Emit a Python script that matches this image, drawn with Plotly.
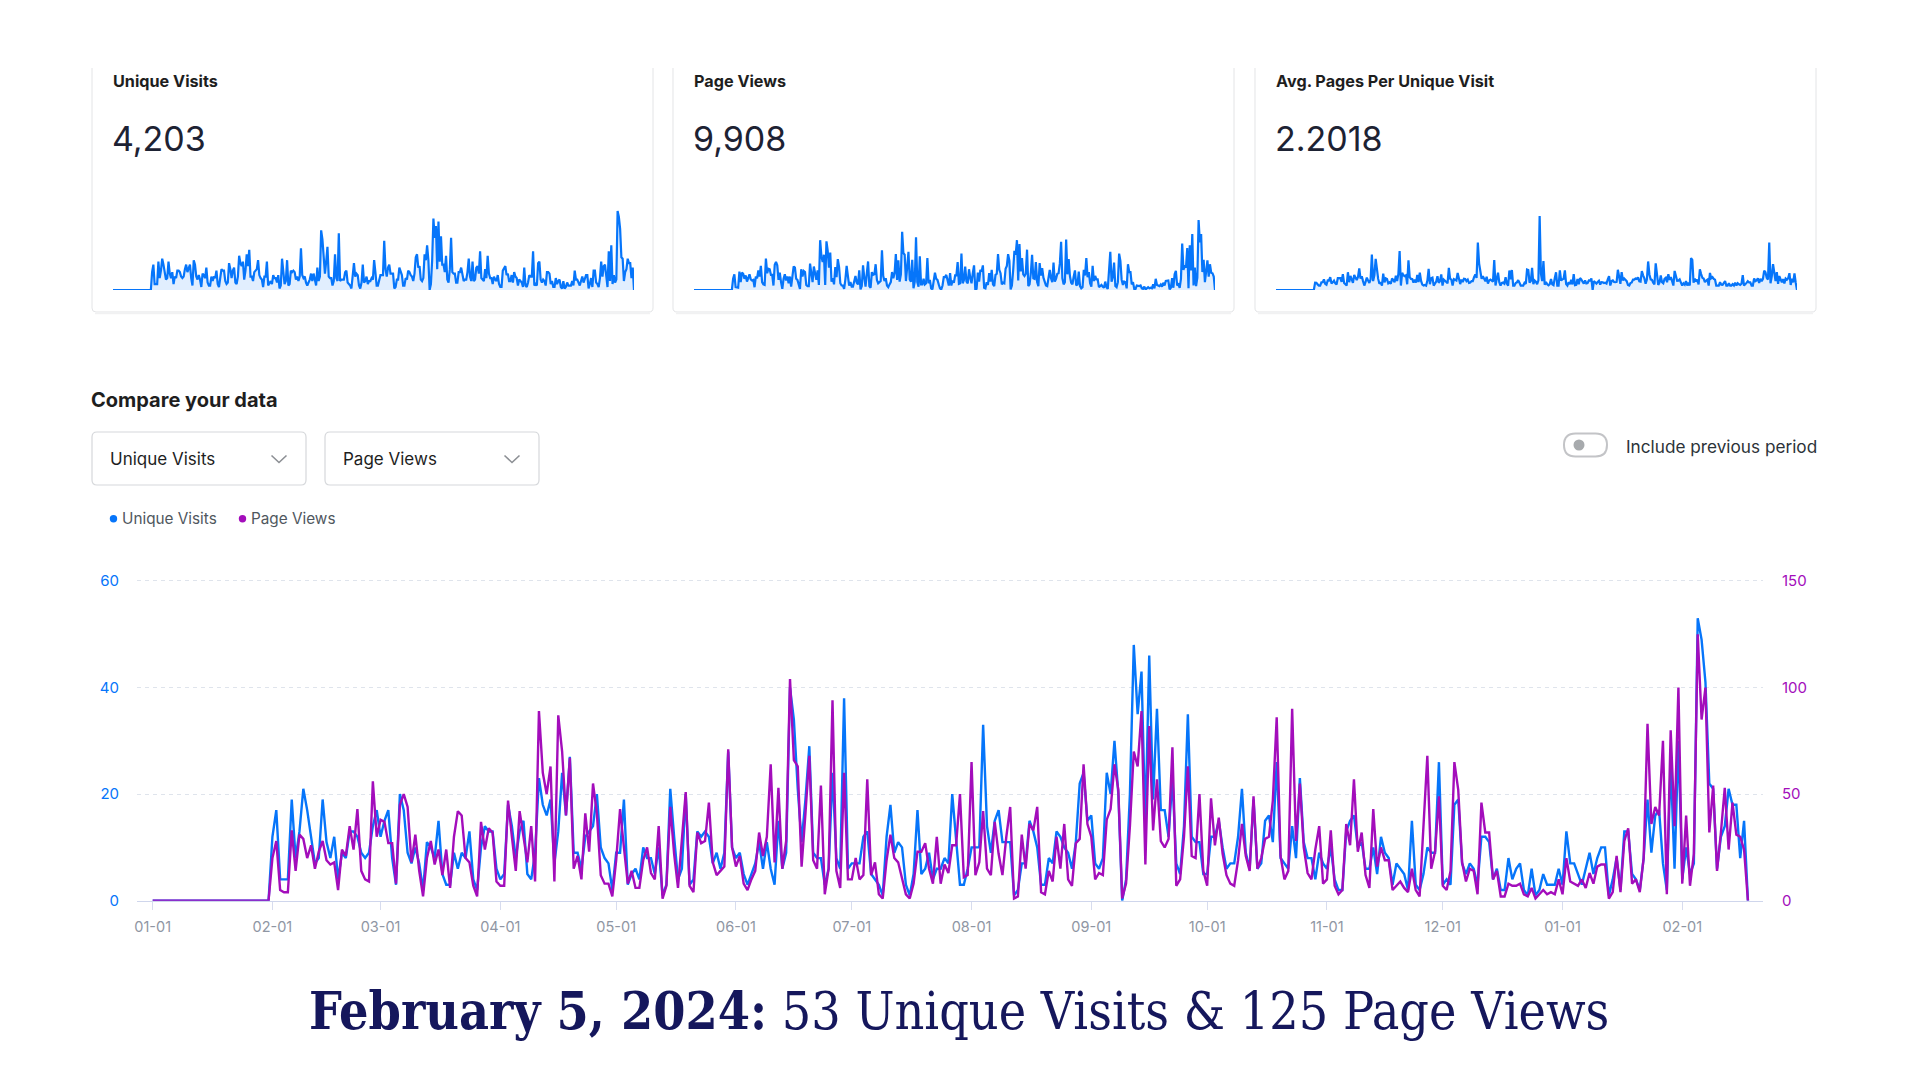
import plotly.graph_objects as go
import pandas as pd

# ---------------- data (daily, starting 2023-01-01) ----------------
start_date = "2023-01-01"
unique_visits = [
    # 2023-01
    0, 0, 0, 0, 0, 0, 0, 0, 0, 0, 0, 0, 0, 0, 0, 0, 0, 0, 0, 0, 0, 0, 0, 0, 0, 0, 0, 0, 0, 0, 0,
    # 2023-02
    12, 17, 4, 4, 4, 19, 8, 13, 21, 17, 12, 7, 8, 19, 11, 8, 12, 4, 9, 8, 13, 13, 12, 9, 8, 9, 14, 17,
    # 2023-03
    12, 15, 17, 8, 3, 20, 17, 9, 7, 10, 7, 2, 11, 10, 8, 15, 5, 3, 3, 9, 6, 9, 8, 13, 4, 2, 10, 14, 13, 13, 6,
    # 2023-04
    4, 5, 18, 14, 8, 13, 15, 5, 4, 9, 23, 18, 16, 19, 7, 13, 24, 16, 27, 9, 9, 6, 12, 13, 14, 20, 10, 8, 7, 2,
    # 2023-05
    9, 9, 19, 3, 5, 6, 4, 10, 8, 8, 5, 10, 1, 3, 21, 12, 4, 6, 20, 3, 4, 13, 12, 13, 12, 7, 9, 6, 9, 28, 10,
    # 2023-06
    8, 9, 5, 3, 5, 7, 11, 6, 11, 6, 3, 15, 6, 9, 40, 34, 21, 11, 19, 29, 9, 8, 8, 3, 6, 24, 8, 6, 38, 6,
    # 2023-07
    7, 7, 7, 12, 13, 5, 4, 3, 1, 12, 18, 9, 11, 10, 3, 1, 5, 17, 5, 6, 9, 4, 6, 6, 8, 7, 20, 12, 3, 3, 6,
    # 2023-08
    10, 10, 10, 33, 14, 9, 15, 17, 11, 11, 11, 1, 2, 7, 7, 15, 13, 10, 3, 3, 8, 7, 13, 12, 10, 9, 6, 11, 22, 24, 15,
    # 2023-09
    16, 7, 6, 8, 24, 20, 30, 20, 0, 4, 20, 48, 35, 43, 14, 46, 19, 36, 17, 17, 12, 23, 7, 5, 14, 35, 12, 11, 11, 5,
    # 2023-10
    5, 12, 12, 15, 10, 6, 7, 7, 12, 21, 9, 6, 19, 6, 7, 15, 16, 11, 26, 8, 7, 6, 14, 8, 23, 11, 8, 8, 4, 9, 7,
    # 2023-11
    6, 10, 4, 2, 2, 13, 15, 16, 10, 11, 6, 6, 10, 5, 12, 9, 8, 3, 7, 6, 5, 2, 15, 3, 2, 5, 10, 9, 9, 26,
    # 2023-12
    3, 4, 3, 18, 19, 7, 5, 7, 6, 3, 12, 12, 11, 4, 6, 2, 2, 8, 4, 6, 7, 2, 1, 6, 1, 2, 5, 3, 3, 3, 6,
    # 2024-01
    3, 13, 7, 7, 5, 3, 6, 9, 5, 8, 10, 10, 1, 4, 8, 2, 13, 13, 5, 4, 2, 8, 19, 9, 16, 17, 7, 2, 26, 6, 30,
    # 2024-02
    4, 10, 5, 7, 53, 49, 41, 22, 21, 6, 12, 14, 21, 18, 18, 8, 15, 0,
]
page_views = [
    # 2023-01
    0, 0, 0, 0, 0, 0, 0, 0, 0, 0, 0, 0, 0, 0, 0, 0, 0, 0, 0, 0, 0, 0, 0, 0, 0, 0, 0, 0, 0, 0, 0,
    # 2023-02
    20, 28, 5, 4, 4, 33, 14, 31, 29, 20, 26, 15, 23, 28, 19, 17, 18, 5, 24, 21, 35, 24, 43, 14, 10, 9, 56, 30,
    # 2023-03
    38, 37, 27, 27, 8, 45, 50, 44, 18, 31, 14, 2, 20, 28, 17, 24, 12, 24, 6, 30, 42, 40, 20, 18, 7, 2, 37, 24, 34, 32, 9,
    # 2023-04
    7, 7, 47, 30, 14, 42, 30, 18, 35, 9, 89, 60, 50, 63, 9, 87, 70, 40, 67, 15, 21, 10, 41, 23, 55, 41, 12, 8, 8, 2,
    # 2023-05
    19, 43, 25, 8, 14, 6, 6, 19, 25, 13, 10, 35, 1, 7, 44, 22, 6, 30, 51, 7, 4, 32, 27, 28, 46, 18, 12, 14, 16, 71, 25,
    # 2023-06
    16, 21, 8, 5, 10, 14, 32, 21, 30, 64, 18, 53, 15, 28, 104, 66, 63, 16, 41, 68, 19, 15, 54, 3, 15, 94, 14, 6, 60, 10,
    # 2023-07
    10, 20, 10, 12, 57, 12, 18, 3, 1, 19, 31, 20, 18, 10, 3, 1, 8, 23, 23, 27, 15, 8, 30, 8, 17, 13, 26, 26, 50, 11, 12,
    # 2023-08
    65, 12, 18, 42, 15, 12, 37, 22, 12, 30, 44, 1, 2, 31, 15, 36, 33, 44, 4, 3, 14, 9, 30, 15, 36, 10, 7, 27, 29, 64, 36,
    # 2023-09
    30, 10, 13, 12, 38, 43, 64, 52, 1, 8, 35, 70, 63, 89, 17, 82, 33, 57, 28, 25, 29, 72, 7, 10, 30, 63, 21, 20, 50, 14,
    # 2023-10
    7, 48, 26, 39, 22, 12, 8, 7, 19, 36, 21, 14, 49, 15, 20, 29, 30, 47, 86, 21, 10, 14, 90, 28, 55, 25, 13, 10, 24, 35, 8,
    # 2023-11
    10, 33, 7, 3, 5, 36, 26, 57, 23, 32, 12, 6, 43, 16, 25, 19, 19, 5, 7, 9, 6, 4, 15, 5, 2, 36, 68, 15, 23, 49,
    # 2023-12
    7, 5, 14, 65, 52, 18, 9, 15, 14, 3, 46, 32, 32, 10, 14, 2, 2, 8, 7, 7, 8, 3, 2, 6, 1, 3, 5, 3, 4, 3, 10,
    # 2024-01
    3, 20, 9, 8, 7, 10, 6, 13, 8, 16, 17, 17, 1, 4, 21, 4, 28, 34, 8, 10, 4, 20, 83, 36, 44, 40, 75, 3, 80, 35, 100,
    # 2024-02
    8, 40, 7, 22, 125, 85, 100, 32, 54, 14, 32, 53, 24, 46, 31, 30, 24, 0,
]

card_titles = ["Unique Visits", "Page Views", "Avg. Pages Per Unique Visit"]
card_values = ["4,203", "9,908", "2.2018"]
left_ticks = [0, 20, 40, 60]
right_ticks = [0, 50, 100, 150]
headline_bold = "February 5, 2024:"
headline_rest = " 53 Unique Visits & 125 Page Views"

# ---------------- helpers ----------------
W, H = 1920, 1080
OFF_X, OFF_Y = 8, 8  # the page's default body margin shifts the figure
FONT = "Inter, 'Noto Sans', sans-serif"
BLUE = "#0675fa"
PURPLE = "#a30dbb"
DARK = "#1e1e1e"


def px(x):
    return (x - OFF_X) / W


def py(y):
    return 1 - (y - OFF_Y) / H


def P(x, y):
    return f"{px(x):.6f},{py(y):.6f}"


def rrect(x0, y0, x1, y1, r):
    return (f"M {P(x0 + r, y0)} L {P(x1 - r, y0)} Q {P(x1, y0)} {P(x1, y0 + r)} "
            f"L {P(x1, y1 - r)} Q {P(x1, y1)} {P(x1 - r, y1)} L {P(x0 + r, y1)} "
            f"Q {P(x0, y1)} {P(x0, y1 - r)} L {P(x0, y0 + r)} Q {P(x0, y0)} {P(x0 + r, y0)} Z")


def note(text, x, y, size, color, family=FONT, xanchor="left"):
    return dict(text=text, x=px(x), y=py(y), xref="paper", yref="paper",
                xanchor=xanchor, yanchor="middle", showarrow=False, borderpad=0,
                font=dict(family=family, size=size, color=color))


dates = pd.date_range(start_date, periods=len(unique_visits), freq="D")
avg_pages = [p / u if u > 0 else 0 for u, p in zip(unique_visits, page_views)]

fig = go.Figure()

# ---------------- main chart ----------------
fig.add_trace(go.Scatter(x=dates, y=unique_visits, mode="lines", name="Unique Visits",
                         line=dict(color=BLUE, width=2.4), xaxis="x", yaxis="y"))
fig.add_trace(go.Scatter(x=dates, y=page_views, mode="lines", name="Page Views",
                         line=dict(color=PURPLE, width=2.4), xaxis="x", yaxis="y2"))

# ---------------- sparklines ----------------
spark_series = [unique_visits, page_views, avg_pages]
spark_left = [113, 694, 1276]
spark_width = 521
spark_peak_px = [79, 70, 74]
layout_extra = {}
for i, series in enumerate(spark_series):
    xa = f"x{i + 2}"
    ya = f"y{i + 3}"
    fig.add_trace(go.Scatter(x=dates, y=series, mode="lines", fill="tozeroy",
                             fillcolor="rgba(6,117,250,0.12)",
                             line=dict(color=BLUE, width=2.2),
                             xaxis=xa, yaxis=ya, showlegend=False, hoverinfo="skip"))
    top = max(series) * 85 / spark_peak_px[i]
    layout_extra[f"xaxis{i + 2}"] = dict(domain=[px(spark_left[i]), px(spark_left[i] + spark_width)],
                                         range=[dates[0], dates[-1]], visible=False,
                                         automargin=False, anchor=f"y{i + 3}", fixedrange=True)
    layout_extra[f"yaxis{i + 3}"] = dict(domain=[py(290), py(205)], range=[0, top],
                                         visible=False, automargin=False,
                                         anchor=f"x{i + 2}", fixedrange=True)

shapes = []
annotations = []

# cards
card_x = [(92, 653), (673, 1234), (1255, 1816)]
for i, (x0, x1) in enumerate(card_x):
    r = 4
    shapes.append(dict(type="path", xref="paper", yref="paper",
                       path=f"M {P(x0, 68)} L {P(x0, 312 - r)} Q {P(x0, 312)} {P(x0 + r, 312)} "
                            f"L {P(x1 - r, 312)} Q {P(x1, 312)} {P(x1, 312 - r)} L {P(x1, 68)}",
                       line=dict(color="#e3e4e6", width=1)))
    shapes.append(dict(type="line", xref="paper", yref="paper",
                       x0=px(x0 + 3), x1=px(x1 - 3), y0=py(313.5), y1=py(313.5),
                       line=dict(color="#f1f1f2", width=1.5)))
    tx = spark_left[i]
    annotations.append(note(f"<b>{card_titles[i]}</b>", tx - 1, 81, 16.2, DARK))
    annotations.append(note(card_values[i], tx - 2, 139, 34, "#1d2233"))

# compare header
annotations.append(note("<b>Compare your data</b>", 90, 400, 20, DARK))

# dropdowns
dd = [(92, 306, "Unique Visits", 109), (325, 539, "Page Views", 342)]
for x0, x1, label, tx in dd:
    shapes.append(dict(type="path", xref="paper", yref="paper", path=rrect(x0, 432, x1, 485, 5),
                       line=dict(color="#d6d8db", width=1.2), fillcolor="white"))
    annotations.append(note(label, tx, 459, 17, DARK))
    cx = x1 - 27
    shapes.append(dict(type="path", xref="paper", yref="paper",
                       path=f"M {P(cx - 7.5, 455.5)} L {P(cx, 462.5)} L {P(cx + 7.5, 455.5)}",
                       line=dict(color="#8c8f94", width=1.6)))

# toggle
shapes.append(dict(type="path", xref="paper", yref="paper", path=rrect(1564, 433.5, 1607, 456.5, 11.5),
                   line=dict(color="#c3c4c7", width=2), fillcolor="white"))
shapes.append(dict(type="circle", xref="paper", yref="paper", x0=px(1573.5), x1=px(1584.5),
                   y0=py(450.5), y1=py(439.5), fillcolor="#a7aaad", line=dict(width=0)))
annotations.append(note("Include previous period", 1625, 446, 17.2, "#2c3338"))

# legend
for cx, col, label in [(113.5, BLUE, "Unique Visits"), (242.5, PURPLE, "Page Views")]:
    shapes.append(dict(type="circle", xref="paper", yref="paper", x0=px(cx - 3.7), x1=px(cx + 3.7),
                       y0=py(522.4), y1=py(515), fillcolor=col, line=dict(width=0)))
    annotations.append(note(label, cx + 7.5, 519, 15.3, "#50575e"))

# headline
annotations.append(note(f"<b>{headline_bold}</b>{headline_rest}", 959, 1011, 51.5, "#15175c",
                        family="'DejaVu Serif Condensed', 'Liberation Serif', serif",
                        xanchor="center"))

# ---------------- layout ----------------
day0 = pd.Timestamp(start_date)
x_start = day0 - pd.Timedelta(hours=4.06 * 24)
x_end = day0 + pd.Timedelta(hours=416.9 * 24)
month_ticks = pd.date_range("2023-01-01", "2024-02-01", freq="MS")
y_top = 60.5
px_per_unit = (900.7 - 581) / 60

fig.update_layout(
    width=W, height=H, margin=dict(l=0, r=0, t=0, b=0, pad=0, autoexpand=False),
    paper_bgcolor="white", plot_bgcolor="white", showlegend=False,
    font=dict(family=FONT),
    xaxis=dict(domain=[px(137), px(1763)], type="date", range=[x_start, x_end],
               tickvals=month_ticks, tickformat="%m-%d", showgrid=False,
               showline=True, linecolor="#cfd6ec", linewidth=1, zeroline=False,
               ticks="outside", ticklen=8, tickcolor="#d7dcee", tickwidth=1,
               tickfont=dict(family=FONT, size=14.5, color="#8f96a3"),
               ticklabelstandoff=5, anchor="y", fixedrange=True, automargin=False),
    yaxis=dict(domain=[py(900.7), py(900.7 - y_top * px_per_unit)], range=[0, y_top],
               tickvals=left_ticks,
               showgrid=True, gridcolor="#dfe4ec", griddash="4px,4px", gridwidth=1,
               zeroline=False, showline=False,
               tickfont=dict(family=FONT, size=15, color=BLUE),
               ticklabelstandoff=17, anchor="x", fixedrange=True, automargin=False),
    yaxis2=dict(overlaying="y", side="right", range=[0, y_top * 2.5], tickvals=right_ticks,
                showgrid=False, zeroline=False, showline=False,
                tickfont=dict(family=FONT, size=15, color=PURPLE),
                ticklabelstandoff=18, anchor="x", fixedrange=True, automargin=False),
    shapes=shapes, annotations=annotations,
    **layout_extra,
)

fig.write_html("out.html", config={"displayModeBar": False})
